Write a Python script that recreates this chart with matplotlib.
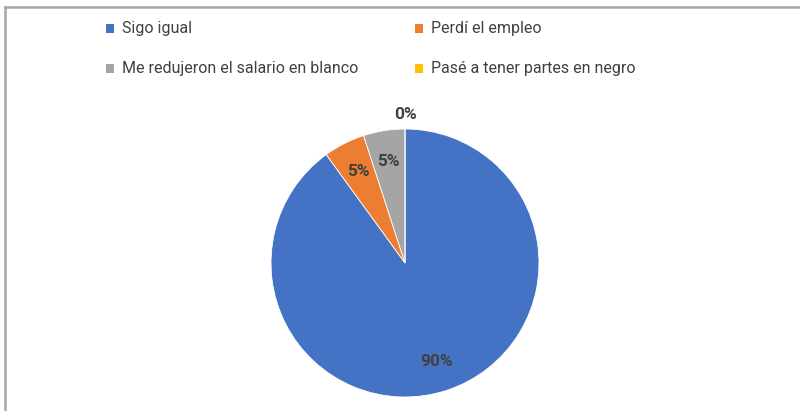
import matplotlib
matplotlib.use("Agg")
import matplotlib.pyplot as plt
from matplotlib.patches import Rectangle
from matplotlib.lines import Line2D
import numpy as np

plt.rcParams['font.family'] = ['Roboto', 'DejaVu Sans']

categories = ["Sigo igual", "Perdí el empleo", "Me redujeron el salario en blanco", "Pasé a tener partes en negro"]
values = [90, 5, 5, 0]
labels = ["90%", "5%", "5%", "0%"]
colors = ["#4472C4", "#ED7D31", "#A5A5A5", "#FFC000"]

W, H = 800, 411
fig = plt.figure(figsize=(W / 100, H / 100), dpi=100)
fig.patch.set_facecolor("white")

cx, cy, R = 405, 263, 134
ax = fig.add_axes([0, 0, 1, 1])
ax.axis("off")

wedges, _ = ax.pie(values, colors=colors, startangle=90, counterclock=False,
                   radius=1, center=(0, 0), frame=False,
                   wedgeprops=dict(edgecolor="white", linewidth=0.6))
ax.set_xlim(-cx / R, (W - cx) / R)
ax.set_ylim(-(H - cy) / R, cy / R)
ax.set_aspect("auto")

for w, lab, v in zip(wedges, labels, values):
    ang = np.deg2rad((w.theta1 + w.theta2) / 2)
    r = 0.77 if v > 0 else 1.11
    ax.text(r * np.cos(ang), r * np.sin(ang), lab, ha="center", va="center",
            fontsize=12.5, fontweight="bold", color="#404040")

# legend (manual, 2 columns)
pos = [(106, 29), (415, 29), (106, 69), (415, 69)]
for (x, y), c, name in zip(pos, colors, categories):
    fig.patches.append(Rectangle((x / W, 1 - (y + 4.5) / H), 8 / W, 9 / H,
                                 transform=fig.transFigure, facecolor=c, edgecolor="none"))
    fig.text((x + 16) / W, 1 - y / H, name, ha="left", va="center",
             fontsize=11.5, color="#404040")

# border lines (left and top)
fig.add_artist(Line2D([5 / W, 5 / W], [0, 1 - 7 / H], transform=fig.transFigure,
                      color="#A6A6A6", linewidth=1.8))
fig.add_artist(Line2D([5 / W, 1], [1 - 7 / H, 1 - 7 / H], transform=fig.transFigure,
                      color="#A6A6A6", linewidth=1.8))

fig.savefig("out.png", dpi=100, facecolor="white")
